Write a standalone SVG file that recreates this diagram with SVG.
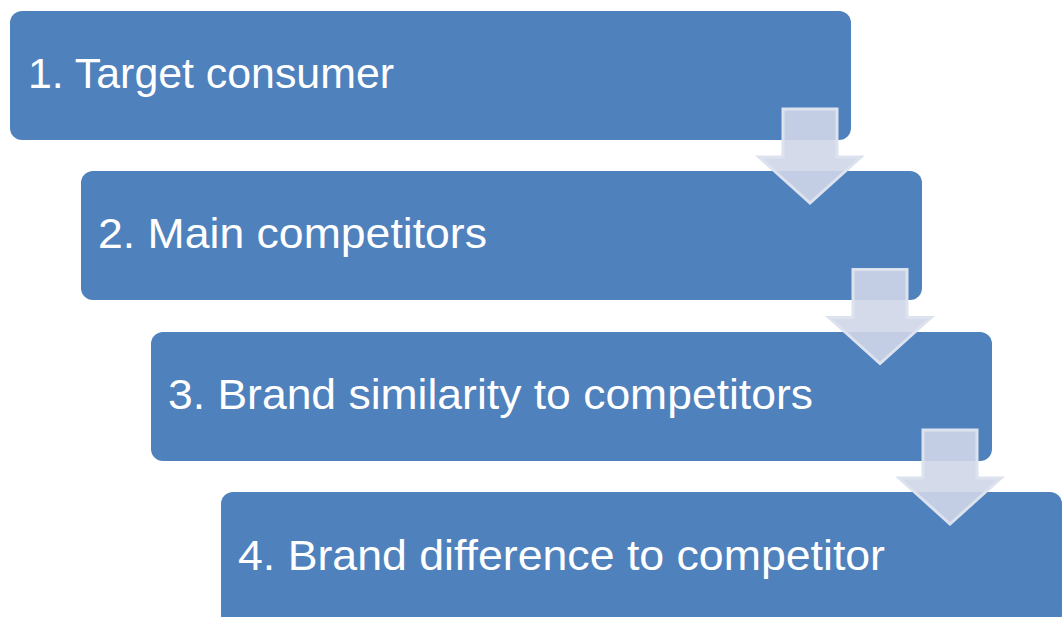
<svg xmlns="http://www.w3.org/2000/svg" width="1064" height="617" viewBox="0 0 1064 617">
<style>
.box{fill:#4F81BD;}
.lbl{fill:#FFFFFF;font-family:"Liberation Sans",Arial,sans-serif;font-size:42px;}
.arr{fill:#CFD6E8;fill-opacity:0.9;stroke:#DDE2EF;stroke-width:3;stroke-linejoin:miter;}
</style>
<defs>
<path id="arrowShape" d="M783,109 H837 V157 H861 L810,203 L759,157 H783 Z"/>
</defs>
<rect width="1064" height="617" fill="#FFFFFF"/>
<g id="node1"><rect class="box" x="10" y="11" width="841" height="129" rx="12"/><text class="lbl" x="28" y="88" textLength="366" lengthAdjust="spacingAndGlyphs">1. Target consumer</text></g>
<g id="node2"><rect class="box" x="81" y="171" width="841" height="129" rx="12"/><text class="lbl" x="98" y="248" textLength="389" lengthAdjust="spacingAndGlyphs">2. Main competitors</text></g>
<g id="node3"><rect class="box" x="151" y="332" width="841" height="129" rx="12"/><text class="lbl" x="168" y="409" textLength="645" lengthAdjust="spacingAndGlyphs">3. Brand similarity to competitors</text></g>
<g id="node4"><rect class="box" x="221" y="492" width="841" height="135" rx="12"/><text class="lbl" x="238" y="570" textLength="647" lengthAdjust="spacingAndGlyphs">4. Brand difference to competitor</text></g>
<g id="connectors">
<use href="#arrowShape" class="arr"/>
<use href="#arrowShape" class="arr" transform="translate(70,160.5)"/>
<use href="#arrowShape" class="arr" transform="translate(140,321)"/>
</g>
</svg>
